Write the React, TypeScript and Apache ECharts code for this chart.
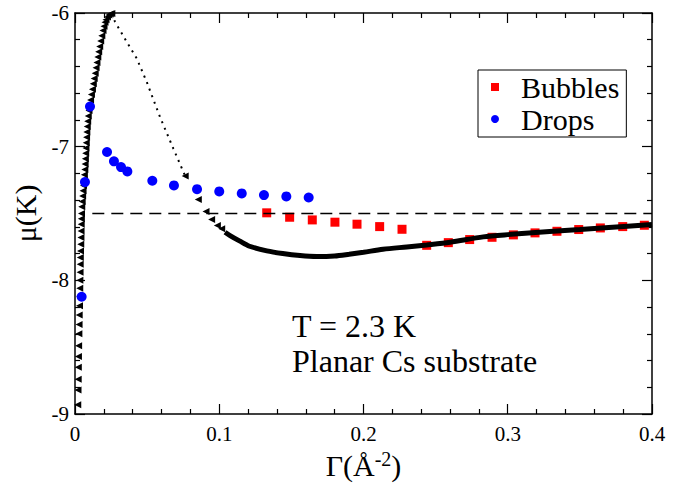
import React, { useEffect, useRef } from "react";
import * as echarts from "echarts";

// Rising (metastable) branch of the isotherm, Γ in Å^-2, μ in K
const riseGamma = [
  0.0019, 0.0021, 0.0022, 0.0023, 0.0024, 0.0025, 0.0027, 0.0028, 0.0029, 0.0031,
  0.0032, 0.0033, 0.0034, 0.0035, 0.0036, 0.0037, 0.0038, 0.004, 0.0041, 0.0042,
  0.0043, 0.0044, 0.0045, 0.0047, 0.005, 0.0053, 0.0056, 0.0059, 0.0062, 0.0065,
  0.0068, 0.007, 0.0072, 0.0074, 0.0076, 0.0078, 0.008, 0.0082, 0.0085, 0.0088,
  0.0092, 0.0097, 0.0102, 0.0108, 0.0114, 0.0121, 0.0127, 0.0133, 0.014, 0.0146,
  0.0152, 0.0158, 0.0164, 0.0171, 0.0178, 0.0186, 0.0194, 0.0201, 0.0208, 0.0215,
  0.0225, 0.0235, 0.0245, 0.0255,
];
const riseMu = [
  -8.93, -8.82, -8.74, -8.65, -8.57, -8.49, -8.4, -8.33, -8.26, -8.19,
  -8.12, -8.06, -8.0, -7.94, -7.88, -7.83, -7.78, -7.73, -7.68, -7.63,
  -7.58, -7.54, -7.5, -7.45, -7.41, -7.37, -7.33, -7.29, -7.25, -7.21,
  -7.17, -7.13, -7.09, -7.05, -7.01, -6.97, -6.93, -6.89, -6.85, -6.81,
  -6.77, -6.73, -6.69, -6.65, -6.61, -6.57, -6.53, -6.49, -6.45, -6.41,
  -6.37, -6.33, -6.29, -6.25, -6.21, -6.17, -6.13, -6.1, -6.07, -6.05,
  -6.03, -6.015, -6.007, -6.003,
];

// Unstable branch (dotted)
const unstableGamma = [0.0257, 0.0277, 0.0324, 0.0358, 0.0428, 0.0497, 0.059, 0.0682, 0.0764];
const unstableMu = [-6.005, -6.065, -6.152, -6.215, -6.34, -6.515, -6.78, -7.015, -7.22];

// Sparse points where the curve turns back down
const turnGamma = [0.0764, 0.0855, 0.0908, 0.0947, 0.0987, 0.1017];
const turnMu = [-7.22, -7.395, -7.485, -7.545, -7.59, -7.615];

// Stable branch
const stableGamma = [
  0.104, 0.1075, 0.114, 0.121, 0.133, 0.144, 0.156, 0.1675, 0.18, 0.19, 0.2,
  0.2135, 0.23, 0.2438, 0.26, 0.283, 0.3, 0.329, 0.35, 0.37, 0.4,
];
const stableMu = [
  -7.64, -7.665, -7.705, -7.745, -7.78, -7.8, -7.815, -7.822, -7.818, -7.805, -7.79,
  -7.768, -7.75, -7.735, -7.715, -7.675, -7.658, -7.635, -7.62, -7.605, -7.582,
];

// Coexistence chemical potential
const coexGamma = [0.012, 0.4];
const coexMu = [-7.5, -7.5];

const bubblesGamma = [
  0.1329, 0.1488, 0.1645, 0.1802, 0.1955, 0.2112, 0.2267, 0.2438, 0.2588, 0.2736,
  0.2891, 0.3039, 0.3189, 0.3341, 0.3492, 0.3642, 0.3797, 0.3947,
];
const bubblesMu = [
  -7.495, -7.528, -7.548, -7.565, -7.58, -7.598, -7.618, -7.738, -7.718, -7.695,
  -7.678, -7.66, -7.645, -7.633, -7.62, -7.608, -7.598, -7.588,
];

const dropsGamma = [
  0.0046, 0.0069, 0.0104, 0.0222, 0.027, 0.0319, 0.0363, 0.0536, 0.0686, 0.0846,
  0.1, 0.1156, 0.131, 0.1465, 0.162,
];
const dropsMu = [
  -8.123, -7.265, -6.7, -7.04, -7.11, -7.153, -7.185, -7.255, -7.29, -7.318,
  -7.335, -7.35, -7.362, -7.372, -7.38,
];

const xTicks = ["0", "0.1", "0.2", "0.3", "0.4"];
const yTicks = ["-9", "-8", "-7", "-6"];

const zip = (a: number[], b: number[]) => a.map((v, i) => [v, b[i]]);

const SERIF = "Liberation Serif";

export default function App() {
  const ref = useRef<HTMLDivElement>(null);

  useEffect(() => {
    if (!ref.current) return;
    const chart = echarts.init(ref.current, undefined, { renderer: "svg" });

    const axisCommon = {
      axisLine: { show: true, onZero: false, lineStyle: { color: "#000", width: 1.5 } },
      axisTick: { show: true, inside: true, length: 10, lineStyle: { color: "#000", width: 1.2 } },
      minorTick: { show: true, splitNumber: 5, length: 5, lineStyle: { color: "#000", width: 1.2 } },
      splitLine: { show: false },
    };

    const triangle = {
      symbol: "triangle",
      symbolRotate: 90,
      symbolSize: 7,
      itemStyle: { color: "#000", opacity: 1 },
    };

    chart.setOption({
      animation: false,
      backgroundColor: "#fff",
      textStyle: { fontFamily: SERIF },
      grid: { left: 75, right: 30, top: 13, bottom: 73 },
      xAxis: [
        {
          type: "value",
          min: 0,
          max: 0.4,
          interval: 0.1,
          position: "bottom",
          ...axisCommon,
          axisLabel: {
            color: "#000",
            fontFamily: SERIF,
            fontSize: 21,
            margin: 9,
            formatter: (v: number) => xTicks[Math.round(v * 10)],
          },
          name: "{a|Γ(Å}{b|-2}{a|)}",
          nameLocation: "middle",
          nameGap: 34,
          nameTextStyle: {
            fontFamily: SERIF,
            rich: {
              a: { fontFamily: SERIF, fontSize: 30, color: "#000", lineHeight: 34 },
              b: { fontFamily: SERIF, fontSize: 20, color: "#000", verticalAlign: "top", lineHeight: 34 },
            },
          },
        },
        {
          type: "value",
          min: 0,
          max: 0.4,
          interval: 0.1,
          position: "top",
          ...axisCommon,
          axisLabel: { show: false },
        },
      ],
      yAxis: [
        {
          type: "value",
          min: -9,
          max: -6,
          interval: 1,
          position: "left",
          ...axisCommon,
          axisLabel: {
            color: "#000",
            fontFamily: SERIF,
            fontSize: 21,
            margin: 6,
            formatter: (v: number) => yTicks[Math.round(v + 9)],
          },
          name: "μ(K)",
          nameLocation: "middle",
          nameRotate: 90,
          nameGap: 31,
          nameTextStyle: { fontFamily: SERIF, fontSize: 30, color: "#000" },
        },
        {
          type: "value",
          min: -9,
          max: -6,
          interval: 1,
          position: "right",
          ...axisCommon,
          axisLabel: { show: false },
        },
      ],
      legend: {
        left: 478,
        top: 70,
        orient: "vertical",
        backgroundColor: "#fff",
        borderColor: "#000",
        borderWidth: 1,
        borderRadius: 0,
        padding: [2, 7, 3, 13],
        itemGap: 2,
        itemWidth: 8,
        itemHeight: 8,
        textStyle: {
          fontFamily: SERIF,
          fontSize: 30,
          color: "#000",
          lineHeight: 30,
          padding: [0, 0, 0, 17],
        },
        data: [
          { name: "Bubbles", icon: "rect" },
          { name: "Drops", icon: "circle" },
        ],
      },
      graphic: [
        {
          type: "text",
          left: 292,
          top: 310,
          style: { text: "T = 2.3 K", fontFamily: SERIF, fontSize: 32, fill: "#000" },
        },
        {
          type: "text",
          left: 292,
          top: 345,
          style: { text: "Planar Cs substrate", fontFamily: SERIF, fontSize: 32, fill: "#000" },
        },
      ],
      series: [
        {
          name: "rise",
          type: "scatter",
          data: zip(riseGamma, riseMu),
          ...triangle,
        },
        {
          name: "unstable",
          type: "line",
          data: zip(unstableGamma, unstableMu),
          showSymbol: false,
          lineStyle: { color: "#000", width: 2, type: [2, 5] },
        },
        {
          name: "turn",
          type: "scatter",
          data: zip(turnGamma, turnMu),
          ...triangle,
        },
        {
          name: "stable",
          type: "line",
          data: zip(stableGamma, stableMu),
          showSymbol: false,
          smooth: 0.3,
          lineStyle: { color: "#000", width: 5 },
        },
        {
          name: "coexistence",
          type: "line",
          data: zip(coexGamma, coexMu),
          showSymbol: false,
          lineStyle: { color: "#000", width: 1.5, type: [12, 7] },
        },
        {
          name: "Bubbles",
          type: "scatter",
          data: zip(bubblesGamma, bubblesMu),
          symbol: "rect",
          symbolSize: 9,
          itemStyle: { color: "#ff0000", opacity: 1 },
        },
        {
          name: "Drops",
          type: "scatter",
          data: zip(dropsGamma, dropsMu),
          symbol: "circle",
          symbolSize: 10,
          itemStyle: { color: "#0000ff", opacity: 1 },
        },
      ],
    });

    return () => chart.dispose();
  }, []);

  return (
    <div
      ref={ref}
      style={{ position: "fixed", left: 0, top: 0, width: 682, height: 487, background: "#fff" }}
    />
  );
}
